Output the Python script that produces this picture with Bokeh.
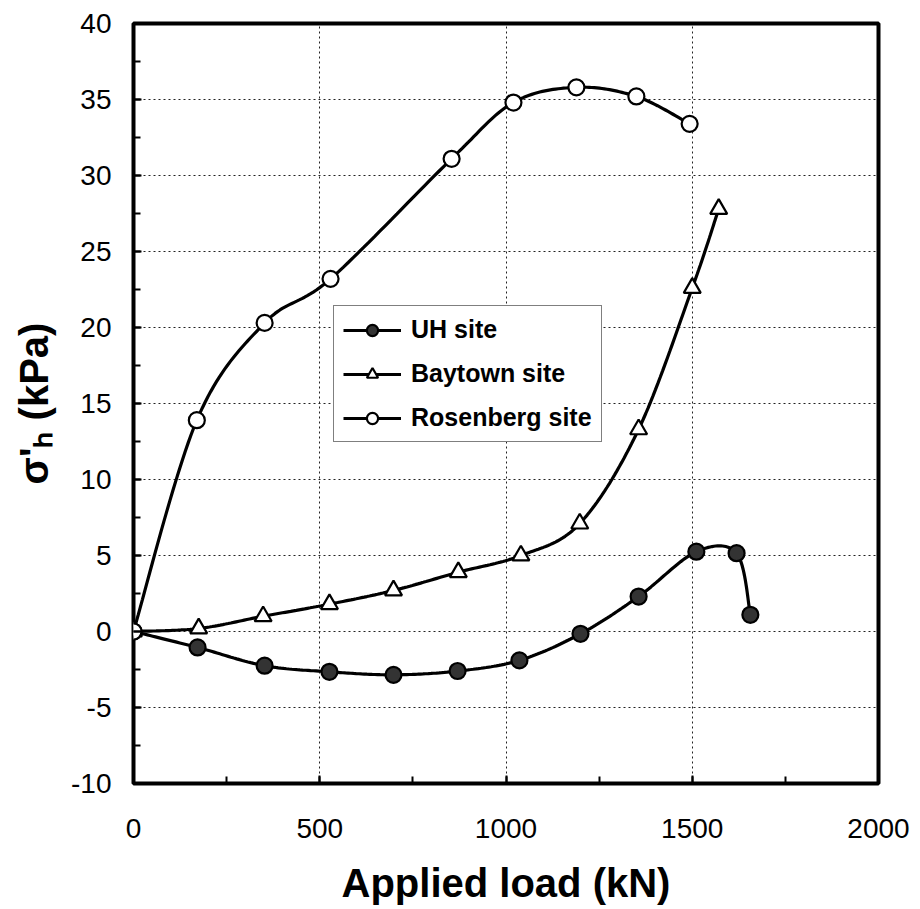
import numpy as np
from bokeh.plotting import figure
from bokeh.models import SingleIntervalTicker, Legend, LegendItem, Range1d
from bokeh.embed import file_html
from bokeh.resources import INLINE

# ---------------- data ----------------
uh_load = [0, 172, 352, 526, 698, 870, 1036, 1200, 1356, 1511, 1619, 1656]
uh_sigma = [0, -1.05, -2.25, -2.65, -2.85, -2.6, -1.9, -0.15, 2.3, 5.25, 5.15, 1.1]

bay_load = [0, 175, 348, 526, 698, 872, 1040, 1198, 1356, 1500, 1571]
bay_sigma = [0, 0.2, 1.0, 1.8, 2.7, 3.9, 5.0, 7.1, 13.3, 22.6, 27.8]

ros_load = [0, 170, 352, 529, 854, 1020, 1189, 1350, 1493]
ros_sigma = [0, 13.9, 20.3, 23.2, 31.1, 34.8, 35.8, 35.2, 33.4]

x_ticks = [0, 500, 1000, 1500, 2000]
y_ticks = [-10, -5, 0, 5, 10, 15, 20, 25, 30, 35, 40]


def smooth(xs, ys, n=24):
    """Catmull-Rom smoothed path through the data points (line style only)."""
    P = np.column_stack([xs, ys]).astype(float)
    P = np.vstack([P[0], P, P[-1]])
    out = []
    for i in range(1, len(P) - 2):
        p0, p1, p2, p3 = P[i - 1], P[i], P[i + 1], P[i + 2]
        c1 = p1 + (p2 - p0) / 6.0
        c2 = p2 - (p3 - p1) / 6.0
        t = np.linspace(0, 1, n, endpoint=(i == len(P) - 3))[:, None]
        seg = ((1 - t) ** 3) * p1 + 3 * ((1 - t) ** 2) * t * c1 + 3 * (1 - t) * t ** 2 * c2 + t ** 3 * p2
        out.append(seg)
    arr = np.vstack(out)
    return arr[:, 0], arr[:, 1]


p = figure(width=910, height=908, output_backend="svg", toolbar_location=None,
           x_range=Range1d(0, 2000), y_range=Range1d(-10, 40),
           min_border_left=133, min_border_right=32, min_border_top=23,
           min_border_bottom=125)

p.outline_line_color = "black"
p.outline_line_width = 4
p.background_fill_color = "white"

# grids
for g in (p.xgrid, p.ygrid):
    g.grid_line_color = "#222222"
    g.grid_line_width = 1
    g.grid_line_dash = "2 3"

p.xaxis.ticker = SingleIntervalTicker(interval=500, num_minor_ticks=2)
p.yaxis.ticker = SingleIntervalTicker(interval=5, num_minor_ticks=2)
p.yaxis.major_label_overrides = {t: str(t) for t in y_ticks}
p.xaxis.major_label_overrides = {t: str(t) for t in x_ticks}

for ax in (p.xaxis, p.yaxis):
    ax.axis_line_color = None
    ax.major_tick_in = 8
    ax.major_tick_out = 0
    ax.minor_tick_in = 7
    ax.minor_tick_out = 0
    ax.major_tick_line_width = 2
    ax.minor_tick_line_width = 2
    ax.major_tick_line_color = "black"
    ax.minor_tick_line_color = "black"
    ax.major_label_text_font = "Liberation Sans"
    ax.major_label_text_font_size = "28px"
    ax.major_label_text_color = "black"
    ax.axis_label_text_font = "Liberation Sans"
    ax.axis_label_text_font_style = "bold"
    ax.axis_label_text_font_size = "40px"
    ax.axis_label_text_color = "black"

p.xaxis.major_label_standoff = 35
p.yaxis.major_label_standoff = 22

p.xaxis.axis_label = "Applied load (kN)"
p.xaxis.axis_label_standoff = 20

p.yaxis.axis_label = "σ'ₕ (kPa)"
p.yaxis.axis_label_standoff = 12

# series
items = []
series = [
    ("UH site", uh_load, uh_sigma, "circle", "#333333", 16),
    ("Baytown site", bay_load, bay_sigma, "triangle", "white", 17),
    ("Rosenberg site", ros_load, ros_sigma, "circle", "white", 16),
]
for name, xs, ys, marker, fill, size in series:
    sx, sy = smooth(xs, ys)
    ln = p.line(sx, sy, line_color="black", line_width=3.2)
    sc = p.scatter(xs, ys, marker=marker, size=size, fill_color=fill,
                   line_color="black", line_width=2.2)
    items.append(LegendItem(label=name, renderers=[ln, sc]))

legend = Legend(items=items, location=(200, 341))
legend.label_text_font = "Liberation Sans"
legend.label_text_font_style = "bold"
legend.label_text_font_size = "25px"
legend.label_text_color = "black"
legend.glyph_width = 58
legend.glyph_height = 28
legend.label_height = 28
legend.spacing = 15
legend.padding = 9
legend.margin = 0
legend.label_standoff = 10
legend.border_line_color = "black"
legend.border_line_width = 1
legend.background_fill_alpha = 1
p.add_layout(legend, "center")

open("out.html", "w").write(file_html(p, INLINE))
